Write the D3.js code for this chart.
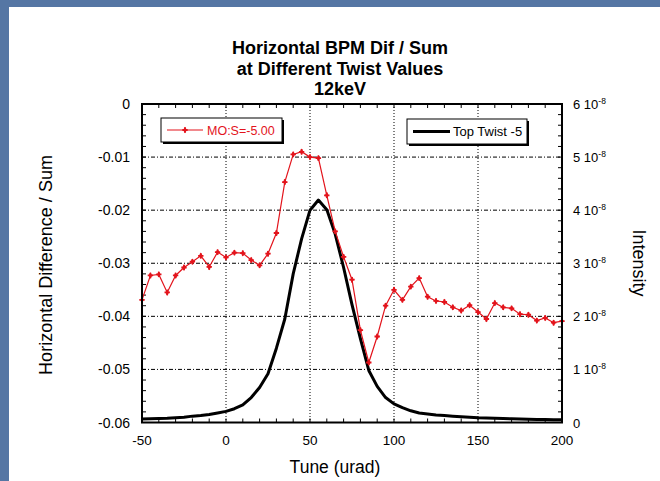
<!DOCTYPE html>
<html>
<head>
<meta charset="utf-8">
<script src="https://cdn.jsdelivr.net/npm/d3@7"></script>
<style>
  html, body { margin: 0; padding: 0; background: #5576a4; }
  #chart { width: 660px; height: 481px; }
  text { font-family: Arial, "Liberation Sans", sans-serif; }
</style>
</head>
<body>
<div id="chart"></div>
<script>
// tune positions (urad)
const tune = [-50, -45, -40, -35, -30, -25, -20, -15, -10, -5, 0, 5, 10, 15, 20, 25, 30, 35, 40, 45,
    50, 55, 60, 65, 70, 75, 80, 85, 90, 95, 100, 105, 110, 115, 120, 125, 130, 135, 140, 145,
    150, 155, 160, 165, 170, 175, 180, 185, 190, 195, 200];

// MO:S=-5.00  horizontal dif / sum
const difSum = [-0.0369, -0.0323, -0.0321, -0.0355, -0.0323, -0.0308, -0.0297, -0.0286, -0.0307, -0.0279,
    -0.0289, -0.0280, -0.0281, -0.0294, -0.0304, -0.0282, -0.0243, -0.0147, -0.0095, -0.0090,
    -0.0100, -0.0102, -0.0172, -0.0240, -0.0288, -0.0331, -0.0426, -0.0487, -0.0438, -0.0380,
    -0.0350, -0.0369, -0.0344, -0.0328, -0.0363, -0.0371, -0.0373, -0.0383, -0.0389, -0.0379,
    -0.0392, -0.0405, -0.0375, -0.0383, -0.0385, -0.0396, -0.0397, -0.0408, -0.0403, -0.0412, -0.0409];

// Top Twist -5  intensity (x 1e-8)
const intensity = [0.065, 0.07, 0.075, 0.08, 0.09, 0.10, 0.12, 0.13, 0.15, 0.18,
    0.21, 0.26, 0.33, 0.47, 0.66, 0.92, 1.40, 1.95, 2.80, 3.46,
    4.00, 4.19, 4.01, 3.55, 2.92, 2.22, 1.58, 0.98, 0.68, 0.47,
    0.35, 0.28, 0.22, 0.18, 0.16, 0.14, 0.13, 0.12, 0.11, 0.10,
    0.09, 0.085, 0.08, 0.075, 0.07, 0.065, 0.06, 0.058, 0.055, 0.052, 0.05];

const xTicks = [-50, 0, 50, 100, 150, 200];
const yTicks = [0, -0.01, -0.02, -0.03, -0.04, -0.05, -0.06];
const yRightTicks = [0, 1, 2, 3, 4, 5, 6];
const titleLines = ["Horizontal BPM Dif / Sum", "at Different Twist Values", "12keV"];

const width = 660;
const height = 481;
const plot = { left: 142, right: 562, top: 104, bottom: 422.5 };
const red = "#e3141c";

const svg = d3.select('#chart')
    .append('svg')
    .attr('width', width)
    .attr('height', height);

// white slide area
svg.append('rect')
    .attr('x', 9).attr('y', 7)
    .attr('width', width - 9).attr('height', height - 7)
    .attr('fill', '#fff');

const xScale = d3.scaleLinear().domain([-50, 200]).range([plot.left, plot.right]);
const yScale = d3.scaleLinear().domain([-0.06, 0]).range([plot.bottom, plot.top]);
const yRight = d3.scaleLinear().domain([0, 6]).range([plot.bottom, plot.top]);

// grid lines
const grid = svg.append('g');
grid.selectAll('.hgrid')
    .data(yTicks.filter(d => d < 0 && d > -0.06))
    .enter().append('line')
    .attr('x1', plot.left).attr('x2', plot.right)
    .attr('y1', d => yScale(d)).attr('y2', d => yScale(d))
    .attr('stroke', '#000').attr('stroke-width', 1)
    .attr('stroke-dasharray', '4,2,1,2');
grid.selectAll('.vgrid')
    .data(xTicks.filter(d => d > -50 && d < 200))
    .enter().append('line')
    .attr('x1', d => xScale(d)).attr('x2', d => xScale(d))
    .attr('y1', plot.top).attr('y2', plot.bottom)
    .attr('stroke', '#000').attr('stroke-width', 1)
    .attr('stroke-dasharray', '1,2');

// minor / major ticks (inside)
const ticks = svg.append('g').attr('stroke', '#000').attr('stroke-width', 1);
d3.range(-50, 201, 10).forEach(v => {
    const x = xScale(v);
    ticks.append('line').attr('x1', x).attr('x2', x).attr('y1', plot.bottom).attr('y2', plot.bottom - 4);
    ticks.append('line').attr('x1', x).attr('x2', x).attr('y1', plot.top).attr('y2', plot.top + 4);
});
d3.range(0, 31).forEach(i => {
    const y = yScale(-0.002 * i);
    ticks.append('line').attr('x1', plot.left).attr('x2', plot.left + 4).attr('y1', y).attr('y2', y);
    ticks.append('line').attr('x1', plot.right).attr('x2', plot.right - 4).attr('y1', y).attr('y2', y);
});

// black intensity curve
const line2 = d3.line()
    .x((d, i) => xScale(tune[i]))
    .y(d => yRight(d));
svg.append('path')
    .datum(intensity)
    .attr('d', line2)
    .attr('fill', 'none')
    .attr('stroke', '#000')
    .attr('stroke-width', 3)
    .attr('stroke-linejoin', 'round');

// red dif/sum series
const line1 = d3.line()
    .x((d, i) => xScale(tune[i]))
    .y(d => yScale(d));
svg.append('path')
    .datum(difSum)
    .attr('d', line1)
    .attr('fill', 'none')
    .attr('stroke', red)
    .attr('stroke-width', 1.2);

const marker = d3.symbol().type(d3.symbolCross).size(16);
const markerD = d3.symbol().type(d3.symbolDiamond).size(12);
svg.selectAll('.pt')
    .data(difSum)
    .enter().append('g')
    .attr('transform', (d, i) => `translate(${xScale(tune[i])},${yScale(d)})`)
    .each(function () {
        d3.select(this).append('path').attr('d', marker).attr('fill', red);
        d3.select(this).append('path').attr('d', markerD).attr('fill', red);
    });

// frame
svg.append('rect')
    .attr('x', plot.left).attr('y', plot.top)
    .attr('width', plot.right - plot.left).attr('height', plot.bottom - plot.top)
    .attr('fill', 'none').attr('stroke', '#000').attr('stroke-width', 2);

// tick labels
svg.selectAll('.xl')
    .data(xTicks)
    .enter().append('text')
    .attr('x', d => xScale(d)).attr('y', 445)
    .attr('text-anchor', 'middle')
    .style('font-size', '13.5px')
    .text(d => d);

svg.selectAll('.yl')
    .data(yTicks)
    .enter().append('text')
    .attr('x', 130).attr('y', d => yScale(d) + 5)
    .attr('text-anchor', 'end')
    .style('font-size', '14px')
    .text(d => d === 0 ? '0' : d.toFixed(2));

const rl = svg.selectAll('.yr')
    .data(yRightTicks)
    .enter().append('text')
    .attr('x', 573).attr('y', d => yRight(d) + 5)
    .style('font-size', '13px');
rl.each(function (d) {
    const t = d3.select(this);
    if (d === 0) { t.text('0'); return; }
    t.append('tspan').text(`${d} 10`);
    t.append('tspan').attr('dy', -5).style('font-size', '8.5px').text('-8');
});

// titles
svg.append('text')
    .attr('x', 340).attr('y', 54)
    .attr('text-anchor', 'middle')
    .style('font-size', '18px').style('font-weight', 'bold')
    .selectAll('tspan')
    .data(titleLines)
    .enter().append('tspan')
    .attr('x', 340).attr('dy', (d, i) => i === 0 ? 0 : 20.5)
    .text(d => d);

svg.append('text')
    .attr('x', 335).attr('y', 473)
    .attr('text-anchor', 'middle')
    .style('font-size', '17.5px')
    .text('Tune (urad)');

svg.append('text')
    .attr('transform', 'translate(52,265) rotate(-90)')
    .attr('text-anchor', 'middle')
    .style('font-size', '18px')
    .text('Horizontal Difference / Sum');

svg.append('text')
    .attr('transform', 'translate(633,263) rotate(90)')
    .attr('text-anchor', 'middle')
    .style('font-size', '18px')
    .text('Intensity');

// legends
function legendBox(x, y, w, h) {
    svg.append('rect').attr('x', x + 2).attr('y', y + 2).attr('width', w).attr('height', h).attr('fill', '#000');
    svg.append('rect').attr('x', x).attr('y', y).attr('width', w).attr('height', h)
        .attr('fill', '#fff').attr('stroke', '#000').attr('stroke-width', 1);
}

legendBox(161, 118, 121, 24);
svg.append('line').attr('x1', 167).attr('x2', 203).attr('y1', 130).attr('y2', 130)
    .attr('stroke', red).attr('stroke-width', 1.2);
svg.append('g').attr('transform', 'translate(185,130)')
    .call(g => {
        g.append('path').attr('d', marker).attr('fill', red);
        g.append('path').attr('d', markerD).attr('fill', red);
    });
svg.append('text').attr('x', 207).attr('y', 134.5)
    .style('font-size', '12.5px').attr('fill', red)
    .text('MO:S=-5.00');

legendBox(407, 119, 120, 25);
svg.append('line').attr('x1', 413).attr('x2', 450).attr('y1', 131.5).attr('y2', 131.5)
    .attr('stroke', '#000').attr('stroke-width', 3);
svg.append('text').attr('x', 453).attr('y', 136)
    .style('font-size', '13px').attr('fill', '#000')
    .text('Top Twist -5');
</script>
</body>
</html>
